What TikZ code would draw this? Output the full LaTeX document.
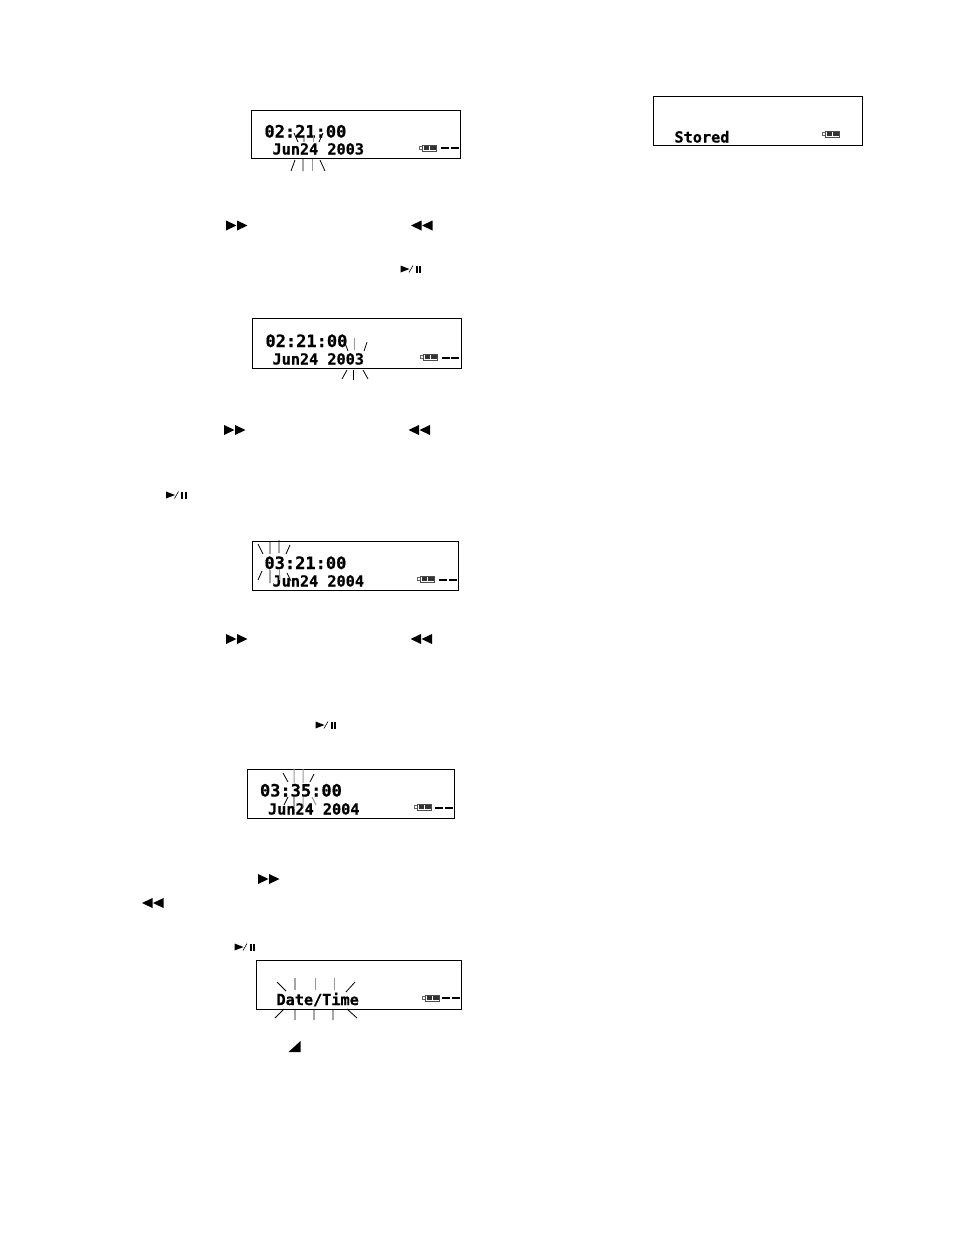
\documentclass[tikz,border=0pt]{standalone}
\usepackage{fontspec}
\newfontfamily\lcdfont[FakeBold=0.6]{DejaVu Sans Mono Bold}
\tikzset{
  lcdbox/.style={draw=black,line width=0.9pt,fill=white},
  lcdtop/.style={anchor=base west,inner sep=0pt,outer sep=0pt,font=\lcdfont\fontsize{17}{17}\selectfont},
  lcdlow/.style={anchor=base west,inner sep=0pt,outer sep=0pt,font=\lcdfont\fontsize{15.2}{15.2}\selectfont},
  ray/.style={line width=0.8pt,black},
  rayg/.style={line width=1pt,black!40},
  glyph/.style={fill=black,draw=none},
}
% battery at left edge x, centre y
\newcommand{\batt}[2]{%
  \begin{scope}[shift={(#1,#2)}]
    \draw[line width=0.5pt,black!60] (3,-1.5) -- (0.5,-1.5) -- (0.5,1.5) -- (3,1.5);
    \draw[line width=0.6pt,black!70] (3,-3.1) rectangle (17.5,3.1);
    \fill[black!80] (5,-2.2) rectangle (10,2.2);
    \fill[black!80] (11.2,-2.2) rectangle (16.5,2.2);
  \end{scope}}
\newcommand{\dashes}[2]{%
  \fill (#1,#2-0.9) rectangle +(8,1.8);
  \fill (#1+9.5,#2-0.9) rectangle +(8,1.8);}
\newcommand{\ffw}[2]{%
  \fill[glyph] (#1,#2-5) -- (#1+10.5,#2) -- (#1,#2+5) -- cycle;
  \fill[glyph] (#1+11,#2-5) -- (#1+21.5,#2) -- (#1+11,#2+5) -- cycle;}
\newcommand{\rew}[2]{%
  \fill[glyph] (#1+10.5,#2-5) -- (#1,#2) -- (#1+10.5,#2+5) -- cycle;
  \fill[glyph] (#1+21.5,#2-5) -- (#1+11,#2) -- (#1+21.5,#2+5) -- cycle;}
\newcommand{\playp}[2]{%
  \fill[glyph] (#1,#2-3.5) -- (#1+9,#2) -- (#1,#2+3.5) -- cycle;
  \draw[line width=0.6pt] (#1+8.5,#2+3.5) -- (#1+12.5,#2-3.5);
  \fill[glyph] (#1+15,#2-3.5) rectangle +(2.2,7);
  \fill[glyph] (#1+18.6,#2-3.5) rectangle +(2.2,7);}
\begin{document}
\begin{tikzpicture}[x=1pt,y=-1pt]
\useasboundingbox (0,0) rectangle (954,1235);
\fill[white] (0,0) rectangle (954,1235);

% display 1
\draw[lcdbox] (251,110) rectangle (460.5,158);
\node[lcdtop] (t1a) at (264.5,137.5) {02:21:00};
\node[lcdlow] (t1b) at (272.5,154.5) {Jun24 2003};
\batt{419}{148}\dashes{441}{148}
\draw[ray] (294,133)--(298,142) (304,135)--(304,142) (323,133)--(319,142) (295,160)--(291,171) (303,159)--(303,171) (320,160)--(325,171);
\draw[rayg] (313,135)--(313,142) (312,159)--(312,171);

\ffw{226}{225.5}\rew{411}{225.5}\playp{400.5}{269}

% display 2
\draw[lcdbox] (252,318) rectangle (461.5,368.5);
\node[lcdtop] (t2a) at (265.5,347) {02:21:00};
\node[lcdlow] (t2b) at (272.5,364.5) {Jun24 2003};
\batt{420}{357}\dashes{441.5}{358}
\draw[ray] (345,343)--(348,351) (367,342)--(364,351) (347,370)--(342,379) (353.5,370)--(353.5,380) (363,370)--(368,379);
\draw[rayg] (354,338)--(354,350);

\ffw{224}{430}\rew{408.5}{430}\playp{166}{495}

% display 3
\draw[lcdbox] (252,541.5) rectangle (458.5,590.5);
\node[lcdtop] (t3a) at (264.5,569) {03:21:00};
\node[lcdlow] (t3b) at (272.5,586.5) {Jun24 2004};
\batt{417}{579}\dashes{439}{580}
\draw[ray] (258,544)--(263,554) (270,541)--(270,554) (279,540)--(279,553) (290,545)--(286,554) (262,571)--(258,580) (270,570)--(270,583) (287,573)--(291,581);
\draw[rayg] (279,570)--(279,580);

\ffw{226}{639}\rew{410.5}{639}\playp{315.5}{725}

% display 4
\draw[lcdbox] (247,769.5) rectangle (454.5,818.5);
\node[lcdtop] (t4a) at (260,796.5) {03:35:00};
\node[lcdlow] (t4b) at (268,814.5) {Jun24 2004};
\batt{414}{807}\dashes{435}{808}
\draw[ray] (283,773)--(288,782) (314,774)--(310,782) (288,797)--(284,805) (294,797)--(294,808);
\draw[rayg] (294,769)--(294,783) (303,769)--(303,783) (303,797)--(303,808) (312,797)--(316,805);

\ffw{258}{879}\rew{142}{903}\playp{234.5}{947}

% display 5
\draw[lcdbox] (256.5,960.5) rectangle (461.5,1009);
\node[lcdlow] (t5a) at (276.5,1005) {Date/Time};
\batt{422}{998}\dashes{442}{998}
\draw[ray] (277,982)--(286,991) (295,978)--(295,990) (355,982)--(346,992) (284,1009)--(275,1018) (295,1009)--(295,1020) (314,1009)--(314,1020) (333,1009)--(333,1020) (347,1009)--(357,1018);
\draw[rayg] (315,978)--(315,990) (334,978)--(334,990);

\fill[glyph] (288.5,1052) -- (300.5,1052) -- (300.5,1041) -- cycle;

% stored display
\draw[lcdbox] (653.5,96) rectangle (862.5,145.5);
\node[lcdlow] (t6) at (674.5,142.5) {Stored};
\batt{822}{134}
\end{tikzpicture}
\end{document}
